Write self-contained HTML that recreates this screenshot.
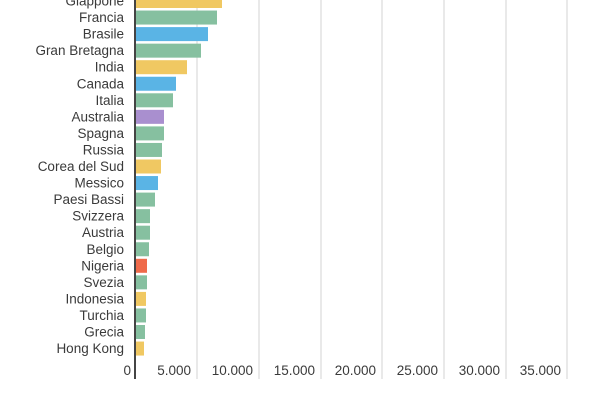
<!DOCTYPE html>
<html><head><meta charset="utf-8"><style>
body{margin:0;background:#fff;width:600px;height:400px;overflow:hidden}
svg text{font-family:"Liberation Sans",sans-serif;fill:#3a3a3a;font-size:13.5px}
</style></head><body>
<svg width="600" height="400" xmlns="http://www.w3.org/2000/svg">
<g stroke="#e2e2e2" stroke-width="1.5">
<line x1="197" y1="0" x2="197" y2="379"/><line x1="259" y1="0" x2="259" y2="379"/>
<line x1="321" y1="0" x2="321" y2="379"/><line x1="382" y1="0" x2="382" y2="379"/>
<line x1="444" y1="0" x2="444" y2="379"/><line x1="506" y1="0" x2="506" y2="379"/>
<line x1="567" y1="0" x2="567" y2="379"/>
</g>
<g id="bars"></g>
<line x1="135" y1="0" x2="135" y2="379" stroke="#444" stroke-width="2"/>
<g text-anchor="end">
<text x="131" y="375">0</text><text x="191" y="375">5.000</text><text x="253" y="375">10.000</text>
<text x="315" y="375">15.000</text><text x="376" y="375">20.000</text><text x="438" y="375">25.000</text>
<text x="500" y="375">30.000</text><text x="561" y="375">35.000</text>
</g>
<g id="labels" text-anchor="end"></g>
<script>
var d=[["Giappone",222,"y"],["Francia",217,"g"],["Brasile",208,"b"],["Gran Bretagna",201,"g"],["India",187,"y"],["Canada",176,"b"],["Italia",173,"g"],["Australia",164,"p"],["Spagna",164,"g"],["Russia",162,"g"],["Corea del Sud",161,"y"],["Messico",158,"b"],["Paesi Bassi",155,"g"],["Svizzera",150,"g"],["Austria",150,"g"],["Belgio",149,"g"],["Nigeria",147,"r"],["Svezia",147,"g"],["Indonesia",146,"y"],["Turchia",146,"g"],["Grecia",145,"g"],["Hong Kong",144,"y"]];
var c={y:"#f0c862",g:"#86c0a0",b:"#5ab4e5",p:"#a98fcf",r:"#ef6a4a"};
var ns="http://www.w3.org/2000/svg",B=document.getElementById("bars"),L=document.getElementById("labels");
d.forEach(function(r,i){var cy=1+i*16.55;
var e=document.createElementNS(ns,"rect");e.setAttribute("x",136);e.setAttribute("y",cy-7);e.setAttribute("width",r[1]-136);e.setAttribute("height",14);e.setAttribute("fill",c[r[2]]);B.appendChild(e);
var t=document.createElementNS(ns,"text");t.setAttribute("x",124);t.setAttribute("y",cy+4.5);t.textContent=r[0];L.appendChild(t);});
</script>
</svg>
</body></html>
